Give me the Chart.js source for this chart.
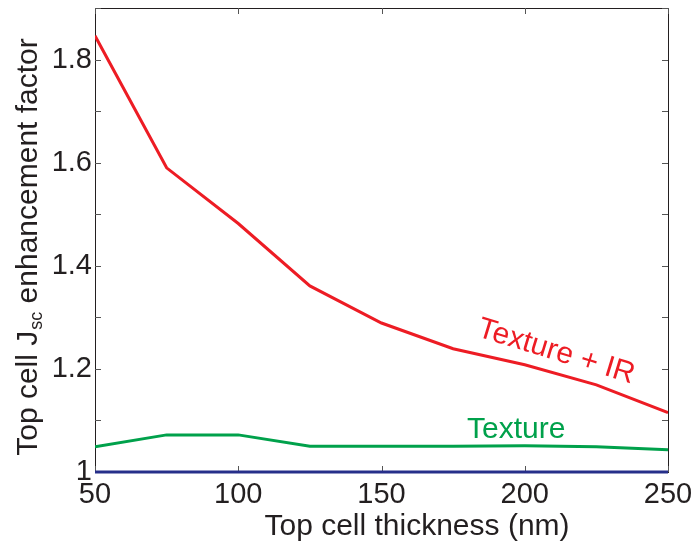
<!DOCTYPE html>
<html><head><meta charset="utf-8">
<script src="https://cdn.jsdelivr.net/npm/chart.js@4.4.1/dist/chart.umd.min.js"></script>
<style>html,body{margin:0;padding:0;background:#fff}</style>
</head><body>
<canvas id="c" width="697" height="545"></canvas>
<script>
const thickness = [50, 75, 100, 125, 150, 175, 200, 225, 250];
const textureIR = [1.846, 1.590, 1.482, 1.361, 1.289, 1.239, 1.208, 1.169, 1.115];
const texture = [1.049, 1.072, 1.072, 1.050, 1.050, 1.050, 1.051, 1.049, 1.043];
const planar = [1, 1, 1, 1, 1, 1, 1, 1, 1];
const xTickValues = [50, 100, 150, 200, 250];
const yTickValues = [1.0, 1.1, 1.2, 1.3, 1.4, 1.5, 1.6, 1.7, 1.8, 1.9];
const yLabelValues = [1.0, 1.2, 1.4, 1.6, 1.8];
const labelTextureIR = {x: 211, y: 1.233, text: 'Texture + IR'};
const labelTexture = {x: 197, y: 1.082, text: 'Texture'};

const FONT = '"Liberation Sans", Arial, Helvetica, sans-serif';
const TXT = '#231f20';
const RED = '#ed1c24';
const GREEN = '#00a14b';
const BLUE = '#262f8a';

const pts = arr => thickness.map((x, i) => ({x, y: arr[i]}));

const framePlugin = {
  id: 'frame',
  beforeDatasetsDraw(chart) {
    const {ctx, chartArea: a, scales: {x, y}} = chart;
    ctx.save();
    ctx.strokeStyle = '#231f20';
    ctx.lineWidth = 1;
    ctx.strokeRect(a.left + 0.5, a.top + 0.5, a.right - a.left, a.bottom - a.top);
    ctx.strokeStyle = '#555';
    const L = 6;
    ctx.beginPath();
    yTickValues.forEach(v => {
      const py = Math.round(y.getPixelForValue(v)) + 0.5;
      ctx.moveTo(a.left, py); ctx.lineTo(a.left + L, py);
      ctx.moveTo(a.right, py); ctx.lineTo(a.right - L, py);
    });
    xTickValues.forEach(v => {
      const px = Math.round(x.getPixelForValue(v)) + 0.5;
      ctx.moveTo(px, a.bottom); ctx.lineTo(px, a.bottom - L);
      ctx.moveTo(px, a.top); ctx.lineTo(px, a.top + L);
    });
    ctx.stroke();
    ctx.restore();
  },
  afterDatasetsDraw(chart) {
    const {ctx, chartArea: a, scales: {x, y}} = chart;
    ctx.save();
    // in-plot labels
    ctx.font = '30px ' + FONT;
    ctx.textAlign = 'center';
    ctx.textBaseline = 'middle';
    ctx.fillStyle = RED;
    ctx.save();
    ctx.translate(x.getPixelForValue(labelTextureIR.x), y.getPixelForValue(labelTextureIR.y));
    ctx.rotate(17 * Math.PI / 180);
    ctx.fillText(labelTextureIR.text, 0, 0);
    ctx.restore();
    ctx.fillStyle = GREEN;
    ctx.fillText(labelTexture.text, x.getPixelForValue(labelTexture.x), y.getPixelForValue(labelTexture.y));

    // axis titles
    ctx.fillStyle = TXT;
    ctx.textBaseline = 'alphabetic';
    ctx.font = '30px ' + FONT;
    ctx.textAlign = 'center';
    ctx.fillText('Top cell thickness (nm)', 417, 535);

    // y title with subscript
    const p1 = 'Top cell J', sub = 'sc', p2 = ' enhancement factor';
    ctx.font = '30px ' + FONT;
    const w1 = ctx.measureText(p1).width, w2 = ctx.measureText(p2).width;
    ctx.font = '18px ' + FONT;
    const ws = ctx.measureText(sub).width + 1;
    const total = w1 + ws + w2;
    ctx.translate(37, 247);
    ctx.rotate(-Math.PI / 2);
    ctx.textAlign = 'left';
    let sx = -total / 2;
    ctx.font = '30px ' + FONT;
    ctx.fillText(p1, sx, 0); sx += w1;
    ctx.font = '18px ' + FONT;
    ctx.fillText(sub, sx + 1, 5); sx += ws;
    ctx.font = '30px ' + FONT;
    ctx.fillText(p2, sx, 0);
    ctx.restore();
  }
};

new Chart(document.getElementById('c'), {
  type: 'line',
  data: {
    datasets: [
      {label: 'Texture + IR', data: pts(textureIR), borderColor: RED, borderWidth: 3, pointRadius: 0, tension: 0},
      {label: 'Texture', data: pts(texture), borderColor: GREEN, borderWidth: 3, pointRadius: 0, tension: 0},
      {label: 'Planar', data: pts(planar), borderColor: BLUE, borderWidth: 3, pointRadius: 0, tension: 0, clip: false}
    ]
  },
  options: {
    responsive: false,
    animation: false,
    events: [],
    layout: {padding: {left: 0, top: 8, right: 29, bottom: 0}, autoPadding: false},
    plugins: {legend: {display: false}, tooltip: {enabled: false}},
    scales: {
      x: {
        type: 'linear', min: 50, max: 250,
        grid: {display: false, drawTicks: false},
        border: {display: false},
        afterFit(s) { s.height = 73; s.paddingLeft = 0; s.paddingRight = 0; },
        afterBuildTicks(s) { s.ticks = xTickValues.map(v => ({value: v})); },
        ticks: {color: TXT, font: {family: FONT, size: 29}, padding: 6, maxRotation: 0, autoSkip: false,
          callback: v => String(v)}
      },
      y: {
        type: 'linear', min: 1.0, max: 1.9,
        grid: {display: false, drawTicks: false},
        border: {display: false},
        afterFit(s) { s.width = 95; s.paddingTop = 0; s.paddingBottom = 0; },
        afterBuildTicks(s) { s.ticks = yLabelValues.map(v => ({value: v})); },
        ticks: {color: TXT, font: {family: FONT, size: 29}, padding: 3, autoSkip: false,
          callback: v => String(Number(v.toFixed(1)))}
      }
    }
  },
  plugins: [framePlugin]
});
</script>
</body></html>
